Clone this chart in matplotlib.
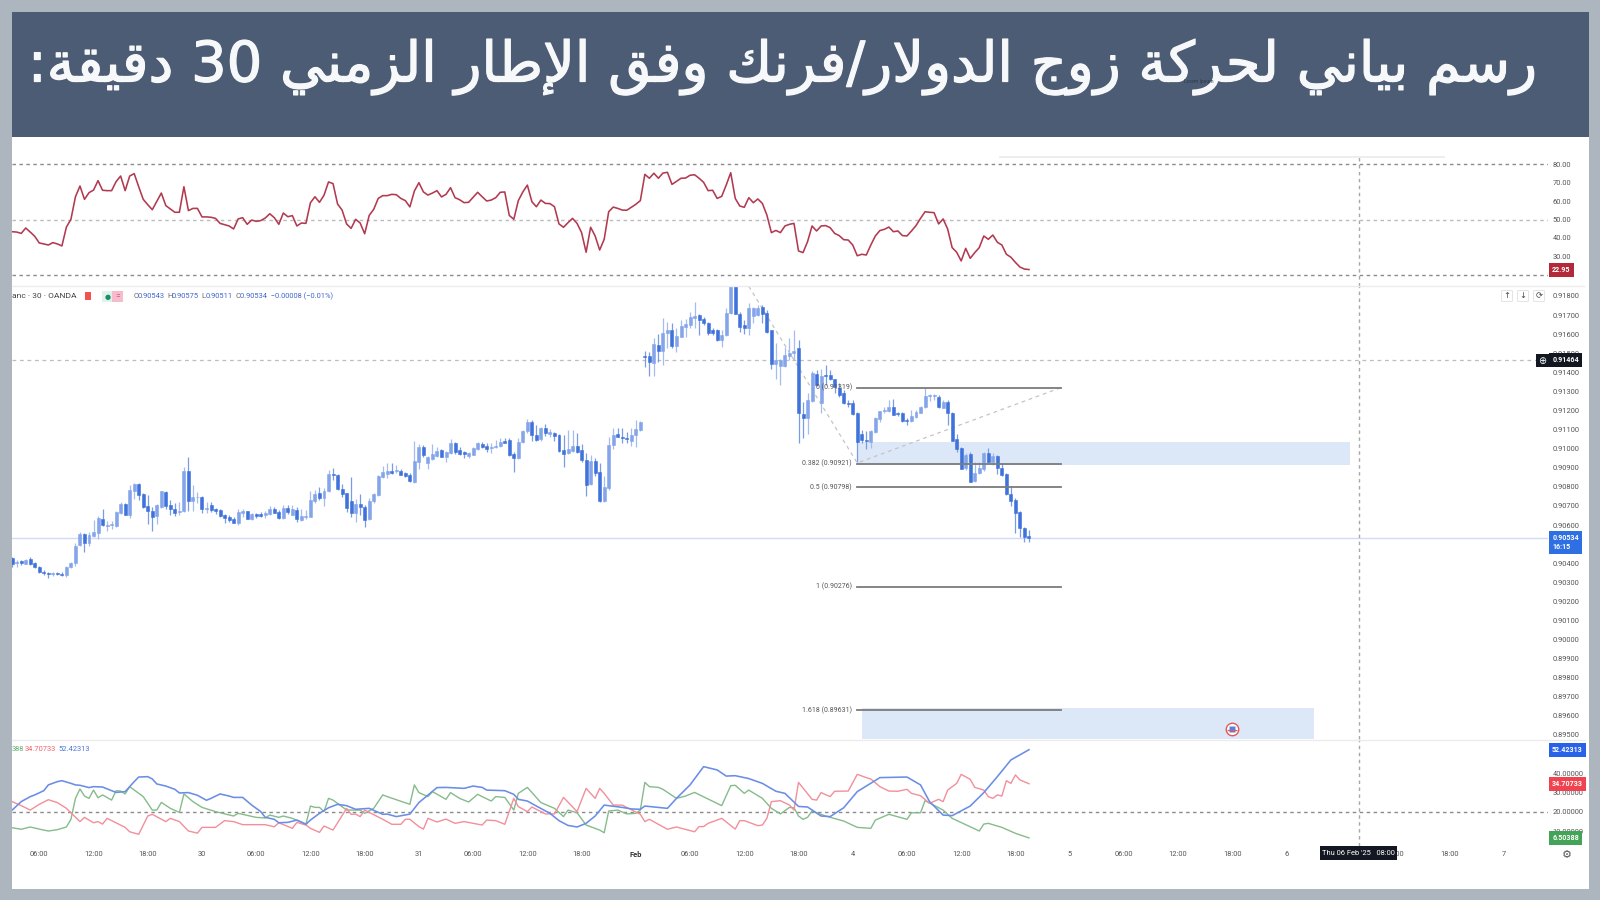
import numpy as np
import matplotlib
matplotlib.use("Agg")
import matplotlib.pyplot as plt
import matplotlib.patheffects as pe
from matplotlib.patches import Rectangle, FancyBboxPatch

plt.rcParams['font.family'] = ['Roboto', 'DejaVu Sans']

TITLE = "رسم بياني لحركة زوج الدولار/فرنك وفق الإطار الزمني 30 دقيقة:"

# Candles, in 1e-5 price units
opens = [
 90425,90403,90409,90397,90423,90402,90382,90355,90348,90345,
 90348,90343,90336,90378,90399,90495,90551,90504,90542,90560,
 90631,90595,90598,90595,90661,90708,90652,90780,90817,90762,
 90701,90673,90647,90692,90775,90705,90682,90670,90675,90883,
 90724,90745,90748,90682,90703,90684,90679,90652,90642,90633,
 90609,90661,90672,90633,90656,90656,90652,90658,90686,90668,
 90635,90687,90654,90679,90626,90644,90644,90726,90766,90740,
 90780,90867,90862,90787,90766,90726,90661,90710,90693,90630,
 90724,90759,90850,90867,90885,90881,90883,90871,90862,90827,
 90932,91011,90924,90944,90964,90993,90958,90976,91028,90993,
 90981,90964,90969,90997,91025,91014,91004,91007,91016,91040,
 91046,90972,90950,91035,91091,91138,91072,91049,91107,91077,
 91081,91072,90993,90976,90986,91014,90993,90941,90815,90936,
 90876,90728,90796,91019,91077,91061,91054,91042,91070,91098,
 91484,91486,91451,91543,91514,91604,91622,91538,91587,91636,
 91648,91683,91699,91678,91660,91622,91622,91570,91594,91709,
 91880,91706,91648,91634,91697,91701,91741,91709,91622,91442,
 91433,91433,91486,91500,91529,91182,91163,91252,91390,91238,
 91388,91386,91363,91316,91290,91241,91241,91189,91077,91045,
 91037,91086,91154,91195,91199,91220,91189,91189,91150,91147,
 91164,91189,91217,91276,91278,91272,91215,91246,91189,91049,
 91002,90897,90970,90829,90871,90892,90976,90930,90963,90897,
 90867,90761,90731,90666,90586,90543]
closes = [
 90396,90408,90399,90418,90396,90380,90352,90347,90345,90348,
 90343,90338,90382,90401,90492,90553,90504,90548,90563,90638,
 90600,90602,90605,90666,90710,90654,90783,90815,90757,90696,
 90672,90644,90705,90776,90701,90682,90661,90675,90883,90726,
 90747,90749,90682,90687,90679,90673,90647,90635,90625,90612,
 90666,90673,90633,90658,90649,90649,90663,90686,90665,90635,
 90687,90668,90682,90630,90647,90647,90731,90763,90740,90780,
 90867,90862,90787,90763,90691,90661,90710,90693,90626,90728,
 90763,90857,90876,90885,90871,90888,90864,90857,90831,90937,
 91011,90967,90957,90971,90986,90958,90985,91032,90981,90971,
 90971,90976,91002,91030,91011,90997,91007,91014,91035,91032,
 90967,90953,91037,91093,91138,91070,91046,91110,91081,91089,
 91067,90988,90972,90997,91014,90985,90941,90810,90936,90875,
 90726,90798,91021,91072,91063,91054,91049,91074,91102,91137,
 91480,91452,91549,91514,91608,91622,91538,91590,91643,91653,
 91687,91695,91674,91657,91604,91608,91570,91596,91713,91880,
 91706,91639,91631,91736,91736,91739,91704,91613,91444,91465,
 91465,91491,91503,91514,91189,91162,91255,91398,91335,91381,
 91383,91365,91321,91281,91238,91234,91182,91037,91045,91042,
 91093,91159,91196,91203,91220,91178,91182,91147,91143,91171,
 91194,91217,91276,91280,91280,91217,91246,91189,91042,90997,
 90895,90967,90827,90874,90897,90976,90932,90962,90897,90862,
 90762,90726,90661,90582,90539,90534]
highs = [
 90430,90416,90416,90422,90434,90408,90387,90362,90354,90352,
 90355,90354,90385,90406,90504,90561,90556,90565,90624,90647,
 90682,90619,90623,90673,90722,90713,90811,90818,90822,90769,
 90755,90696,90710,90780,90780,90731,90713,90720,90902,90955,
 90810,90773,90752,90722,90722,90689,90684,90658,90651,90640,
 90682,90682,90673,90661,90665,90670,90673,90700,90693,90679,
 90705,90703,90707,90693,90682,90679,90778,90784,90801,90792,
 90888,90897,90867,90815,90770,90850,90735,90763,90705,90740,
 90770,90862,90909,90923,90923,90913,90892,90880,90871,91040,
 91023,91020,90962,91023,91011,90997,90990,91049,91035,91007,
 90990,90985,91007,91037,91037,91028,91028,91046,91058,91054,
 91056,90981,91054,91098,91156,91151,91124,91116,91128,91102,
 91089,91075,91072,91098,91098,91084,91023,90976,90967,90950,
 90923,90857,91063,91107,91107,91107,91089,91107,91151,91147,
 91512,91508,91578,91599,91683,91666,91657,91631,91674,91678,
 91718,91767,91706,91688,91666,91631,91625,91622,91735,91900,
 91900,91718,91674,91762,91741,91753,91753,91727,91622,91552,
 91468,91535,91578,91622,91570,91246,91294,91409,91412,91416,
 91438,91412,91367,91342,91307,91255,91255,91194,91098,91093,
 91098,91168,91199,91220,91255,91259,91194,91192,91159,91203,
 91203,91224,91316,91286,91286,91280,91255,91255,91192,91077,
 91010,90976,90984,90932,90932,90984,91005,90976,90967,90923,
 90874,90804,90740,90673,90591,90575]
lows = [
 90378,90382,90390,90394,90390,90373,90347,90338,90322,90334,
 90338,90333,90327,90373,90385,90488,90460,90492,90535,90525,
 90595,90568,90581,90588,90656,90651,90638,90734,90731,90691,
 90605,90569,90605,90687,90682,90652,90649,90652,90666,90675,
 90675,90717,90665,90665,90668,90658,90640,90609,90616,90609,
 90600,90644,90630,90626,90635,90640,90635,90652,90661,90630,
 90630,90656,90651,90618,90623,90633,90640,90717,90731,90700,
 90775,90836,90783,90745,90670,90640,90618,90653,90591,90626,
 90717,90752,90845,90845,90867,90871,90860,90853,90827,90822,
 90892,90958,90892,90941,90958,90955,90932,90972,90972,90965,
 90953,90950,90965,90993,91004,90985,90976,91002,91011,91028,
 90964,90876,90946,91032,91084,91040,91042,91042,91067,91060,
 91042,90985,90906,90971,90981,90979,90932,90752,90810,90857,
 90723,90723,90784,90997,91060,91028,91028,91014,91007,91095,
 91426,91381,91381,91456,91439,91526,91526,91508,91583,91587,
 91631,91631,91596,91648,91596,91596,91566,91535,91590,91705,
 91703,91613,91599,91596,91657,91695,91660,91608,91416,91363,
 91334,91426,91465,91465,91031,91054,91077,91246,91328,91189,
 91334,91360,91290,91273,91234,91220,91177,90932,91028,90997,
 91002,91080,91141,91185,91194,91176,91171,91141,91124,91141,
 91159,91185,91213,91251,91253,91211,91211,91124,91038,90984,
 90892,90888,90823,90825,90866,90885,90927,90914,90867,90859,
 90757,90699,90556,90535,90509,90511]

# RSI, one value per bar
rsi = [
 43.4,43.2,42.5,45.4,43.2,40.9,37.3,36.8,36.2,37.5,36.8,35.7,45.9,50.1,62.3,68.1,60.9,64.5,65.9,71.0,
 65.8,65.6,65.6,70.5,73.5,65.6,73.5,74.8,67.7,60.9,58.0,55.3,59.8,64.3,57.5,55.7,53.9,53.9,67.7,54.8,
 56.0,56.0,51.4,51.4,51.2,50.6,47.9,47.2,46.5,44.9,50.3,51.0,47.4,49.7,49.0,49.4,50.8,53.1,51.0,47.4,
 53.5,51.5,52.1,46.5,48.1,47.9,59.1,62.3,59.3,63.1,70.3,69.4,58.4,55.1,47.6,45.2,50.1,48.1,42.3,52.2,
 55.5,61.4,62.9,62.9,63.6,63.4,61.4,60.2,56.8,65.4,69.9,64.9,63.2,64.3,65.6,62.2,63.6,67.2,61.8,60.7,
 59.1,59.3,62.0,64.7,62.3,60.0,60.5,61.8,64.7,64.9,52.2,50.1,60.2,64.9,68.6,59.6,56.9,60.5,
 58.7,58.6,56.9,47.6,45.8,48.3,50.6,47.9,42.9,32.3,45.8,41.1,33.5,39.3,54.2,56.7,56.0,55.1,55.0,56.6,
 58.2,60.2,74.4,72.3,75.0,72.3,75.1,75.5,69.0,70.6,72.3,72.4,73.9,74.2,72.3,70.1,65.6,65.8,61.4,62.5,
 68.6,75.3,61.4,57.3,56.6,61.8,59.1,61.1,58.7,52.4,42.9,44.1,42.9,46.5,47.4,47.9,33.0,32.1,38.0,46.5,
 43.8,46.5,46.7,45.6,42.5,41.3,39.1,38.9,36.2,30.4,31.2,30.8,36.2,41.1,44.0,44.7,45.9,43.4,43.8,41.3,
 41.1,43.8,46.7,50.6,54.2,53.9,53.7,47.6,50.3,44.9,34.8,32.3,27.6,34.4,29.0,32.1,34.8,41.1,39.3,41.6,
 37.7,36.2,31.2,29.6,26.8,24.3,23.2,22.95]

# Directional indicator lines: bars where the line turns, and its value there
blue_bars = [0,2,4,5,7,8,10,11,13,14,15,17,18,20,22,23,25,27,28,30,31,32,34,36,37,39,41,43,44,46,48,49,51,53,55,56,58,59,61,63,65,66,68,70,72,74,76,79,82,83,85,88,90,92,94,96,100,102,104,105,109,111,
 112,114,116,119,121,123,125,127,129,131,135,137,139,140,145,147,150,153,156,158,160,163,166,169,171,174,176,179,181,184,187,189,192,198,201,203,206,208,212,215,218,221,225]
blue_vals = [21.0,25.4,28.0,28.9,31.1,34.1,35.8,36.3,34.9,34.1,33.9,32.7,33.2,33.0,31.1,30.2,30.6,35.8,38.2,38.4,37.2,34.6,33.5,31.8,29.9,30.1,28.7,26.1,27.1,29.4,28.3,27.6,27.6,23.6,20.2,17.2,16.2,14.4,14.6,15.8,13.6,15.8,19.3,22.2,24.0,23.3,21.4,21.9,18.8,18.9,17.6,18.9,24.9,28.8,32.7,32.8,32.3,33.5,32.8,31.4,31.1,29.2,
 26.6,25.7,23.1,19.3,15.5,13.0,12.2,14.1,17.9,23.6,22.4,21.6,21.4,23.1,21.9,27.1,34.1,43.6,41.9,38.7,38.9,37.4,34.9,30.8,29.7,22.9,22.6,17.9,17.6,22.2,30.6,33.5,37.9,38.2,34.1,25.4,18.4,18.1,23.1,30.1,38.4,47.1,52.42]
green_bars = [0,2,4,6,8,10,12,13,14,15,16,17,18,19,20,22,23,24,25,26,29,31,32,33,35,37,38,40,42,45,49,50,54,56,57,59,60,62,65,66,67,68,69,70,71,74,77,78,80,82,83,88,89,90,92,93,96,97,99,101,103,104,106,107,109,111,
 112,114,117,120,122,123,125,127,130,131,132,134,136,138,139,140,141,143,144,147,149,151,157,159,160,162,163,166,168,170,172,173,174,175,176,177,180,184,187,190,191,194,198,199,201,202,206,208,214,215,216,219,222,225]
green_vals = [11.8,11.0,12.2,11.1,10.1,10.8,12.2,16.2,27.1,32.0,28.3,27.1,31.4,27.4,28.9,26.2,31.1,30.9,29.4,33.2,28.0,21.0,21.0,25.0,21.9,19.8,29.4,25.4,22.4,20.2,17.9,19.3,17.2,16.9,18.4,17.2,17.9,16.7,13.7,23.1,22.4,22.4,20.2,27.1,26.2,21.0,21.0,19.3,21.9,28.9,28.0,24.0,34.1,30.1,28.0,30.6,26.6,30.1,27.1,25.2,29.2,28.0,25.7,28.0,27.6,21.0,
 29.7,32.8,24.9,21.9,17.6,21.0,19.6,13.2,10.6,9.2,20.5,21.0,19.0,19.3,21.0,35.4,33.2,32.8,31.8,27.1,28.3,30.2,23.3,33.7,33.9,29.7,31.4,27.1,21.9,19.0,22.4,22.2,17.9,16.2,17.2,20.5,17.9,15.3,12.0,11.5,15.8,18.8,16.2,19.6,19.6,25.9,21.0,16.7,10.1,13.7,14.1,12.0,8.9,6.5]
red_bars = [0,2,4,6,8,10,12,13,15,16,18,19,20,21,24,25,26,28,30,31,34,35,37,39,41,42,45,47,49,51,56,58,59,62,63,65,66,68,69,71,74,75,76,77,78,82,84,86,87,88,90,91,92,94,96,98,100,104,105,107,109,111,
 112,114,115,118,120,122,125,127,129,130,131,133,135,139,140,141,145,147,151,152,153,154,157,160,161,162,165,166,167,168,170,172,173,174,177,178,179,181,182,185,187,189,190,192,194,196,198,199,201,203,205,206,207,209,210,212,213,215,216,217,218,219,220,221,222,223,225]
red_vals = [25.4,23.3,21.0,24.0,26.4,24.9,21.9,19.6,15.0,17.2,14.4,15.0,13.7,16.7,13.2,12.0,9.7,8.4,17.9,18.8,15.0,16.7,15.0,10.1,9.0,12.0,12.0,15.5,15.0,13.4,13.4,12.3,14.4,11.5,14.6,13.2,11.5,9.4,12.7,10.6,21.9,18.8,18.9,17.6,21.0,16.2,13.6,13.6,16.2,16.2,12.4,11.1,16.7,14.8,16.3,14.1,15.0,13.2,15.8,15.5,13.6,27.1,
 22.8,20.2,22.6,19.0,19.0,27.6,20.2,32.3,27.1,32.3,29.7,23.6,23.6,18.8,15.0,16.2,11.0,12.2,9.7,12.4,12.4,14.1,16.7,11.1,15.5,15.5,12.9,13.2,16.7,25.4,25.9,23.6,21.0,35.4,26.6,26.2,30.1,28.0,30.8,30.9,39.6,37.9,37.2,33.2,30.9,30.8,31.8,29.7,28.5,24.5,26.6,25.4,31.4,34.9,39.6,37.0,32.8,31.4,28.0,27.1,28.9,28.3,36.3,34.9,39.3,36.7,34.71]

fib_labels = ["0", "0.382", "0.5", "1", "1.618"]
fib_prices = [0.91319, 0.90921, 0.90798, 0.90276, 0.89631]
zigzag_bars = [163, 187, 232]
zigzag_prices = [0.9185, 0.90925, 0.91319]
zone_bars = [(187, 296), (188, 288)]
zone_prices = [(0.90914, 0.91036), (0.8940, 0.89641)]

price_ticks = [round(0.895 + 0.001 * k, 3) for k in range(24)]
rsi_ticks = [20, 30, 40, 50, 60, 70, 80]
adx_ticks = [10, 20, 30, 40, 50]
time_ticks = [6,18,30,42,54,66,78,90,102,114,126,138,150,162,174,186,198,210,222,234,246,258,270,282,294,306,318,330]
time_labels = ["06:00","12:00","18:00","30","06:00","12:00","18:00","31","06:00","12:00","18:00","Feb",
               "06:00","12:00","18:00","4","06:00","12:00","18:00","5","06:00","12:00","18:00","6",
               "06:00","12:00","18:00","7"]
last_price = 0.90534
cross_price = 0.91464
cross_bar = 298
event_bar = 270
event_price = 0.89530


def shape_arabic(text):
    """Joined glyph forms in visual order, because matplotlib does no Arabic shaping."""
    dual = {'ب':0xFE8F,'ج':0xFE9D,'ح':0xFEA1,'س':0xFEB1,'ط':0xFEC1,'ف':0xFED1,'ق':0xFED5,
            'ك':0xFED9,'ل':0xFEDD,'م':0xFEE1,'ن':0xFEE5,'ي':0xFEF1}
    right = {'ا':0xFE8D,'إ':0xFE87,'د':0xFEA9,'ر':0xFEAD,'ز':0xFEAF,'و':0xFEED,'ة':0xFE93}
    out = []
    chars = list(text)
    i = 0
    def joins_next(c):
        return c in dual
    def is_ar(c):
        return c in dual or c in right
    while i < len(chars):
        c = chars[i]
        prev_j = i > 0 and joins_next(chars[i - 1])
        nxt = chars[i + 1] if i + 1 < len(chars) else ''
        if c == 'ل' and nxt in ('ا', 'إ'):
            base = 0xFEFB if nxt == 'ا' else 0xFEF9
            out.append(chr(base + (1 if prev_j else 0)))
            i += 2
            continue
        if c in right:
            out.append(chr(right[c] + (1 if prev_j else 0)))
        elif c in dual:
            next_j = is_ar(nxt)
            k = 3 if (prev_j and next_j) else 2 if next_j else 1 if prev_j else 0
            out.append(chr(dual[c] + k))
        else:
            out.append(c)
        i += 1
    vis = out[::-1]
    res, j = [], 0
    while j < len(vis):
        if vis[j].isdigit():
            k = j
            while k < len(vis) and vis[k].isdigit():
                k += 1
            res.extend(vis[j:k][::-1])
            j = k
        else:
            res.append(vis[j])
            j += 1
    return ''.join(res)


FRAME = '#adb5bf'
BANNER = '#4c5c74'
W, H = 1600, 900
fig = plt.figure(figsize=(16, 9), dpi=100, facecolor=FRAME)


def box(x0, y0, x1, y1, color, z=-10):
    fig.add_artist(Rectangle((x0 / W, 1 - y1 / H), (x1 - x0) / W, (y1 - y0) / H,
                             transform=fig.transFigure, fc=color, ec='none', zorder=z))


def add_ax(y0, y1):
    ax = fig.add_axes([12 / W, 1 - y1 / H, (1548 - 12) / W, (y1 - y0) / H], facecolor='none')
    for s in ax.spines.values():
        s.set_visible(False)
    ax.set_xlim(-0.04, 339.85)
    ax.yaxis.tick_right()
    ax.tick_params(axis='y', length=0, pad=3.4, labelsize=5.4, labelcolor='#555555')
    ax.set_xticks([])
    return ax


box(12, 12, 1589, 889, 'white', -12)
box(12, 12, 1589, 137, BANNER, -11)
title = fig.text(1538 / W, 1 - 67 / H, shape_arabic(TITLE), color='#f7f8fa', fontsize=41, ha='right',
                 va='center', family='DejaVu Sans',
                 path_effects=[pe.withStroke(linewidth=0.9, foreground='#f7f8fa')])
fig.text(1199 / W, 1 - 81.5 / H, "Lorem Ipsum", color='#2e3a4c', fontsize=3.6, ha='center', va='center')

# RSI panel
ax_rsi = add_ax(137, 286)
ax_rsi.set_ylim(14.05, 94.6)
ax_rsi.set_yticks(rsi_ticks)
ax_rsi.set_yticklabels([f"{v:.2f}" for v in rsi_ticks])
for lvl, col in ((80, '#8a8a8a'), (50, '#bcbcbc'), (20, '#8a8a8a')):
    ax_rsi.axhline(lvl, color=col, lw=1.0, ls=(0, (2.5, 2.5)))
ax_rsi.plot(np.arange(len(rsi)), rsi, color='#b23a50', lw=1.15, solid_joinstyle='round')

# Price panel
ax = add_ax(286, 739)
ax.set_ylim(0.89479, 0.91852)
ax.set_yticks(price_ticks)
ax.set_yticklabels([f"{v:.5f}" for v in price_ticks])
o, c = np.array(opens) / 1e5, np.array(closes) / 1e5
hi, lo = np.array(highs) / 1e5, np.array(lows) / 1e5
xs = np.arange(len(opens))
up = c >= o
for (b0, b1), (p0, p1) in zip(zone_bars, zone_prices):
    ax.add_patch(Rectangle((b0, p0), b1 - b0, p1 - p0, fc='#dce8f8', ec='none', zorder=1))
ax.axhline(last_price, color='#d3daf6', lw=1.0, zorder=1.5)
ax.axhline(cross_price, color='#bdbdbd', lw=0.9, ls=(0, (3, 3)), zorder=1.5)
ax.vlines(xs[up], lo[up], hi[up], color='#a6bcee', lw=0.9, zorder=2)
ax.vlines(xs[~up], lo[~up], hi[~up], color='#7a9ce4', lw=0.9, zorder=2)
ax.bar(xs[up], (c - o)[up], bottom=o[up], width=0.66, color='#85a5ea', edgecolor='#85a5ea', lw=0.4, zorder=3)
ax.bar(xs[~up], (o - c)[~up], bottom=c[~up], width=0.66, color='#3f72da', edgecolor='#3f72da', lw=0.4, zorder=3)
ax.plot(zigzag_bars, zigzag_prices, color='#c4c4c4', lw=0.9, ls=(0, (3, 3)), zorder=2.5)
for name, p in zip(fib_labels, fib_prices):
    ax.plot([187, 232], [p, p], color='#7b7b7b', lw=1.3, zorder=4)
    ax.text(185.8, p, f"{name} ({p:.5f})", ha='right', va='center', fontsize=5.0, color='#555555', zorder=4)
ax.plot([event_bar], [event_price], 'o', ms=9, mfc='white', mec='#e05a5a', mew=1.0, zorder=5)
ax.plot([event_bar], [event_price], 's', ms=4.2, mfc='#5a82d8', mec='none', zorder=6)
ax.plot([event_bar], [event_price - 0.00006], '_', ms=7, color='#e05a5a', mew=0.9, zorder=7)

# Directional panel
ax_adx = add_ax(739, 846)
ax_adx.set_ylim(2.3, 58.0)
ax_adx.set_yticks(adx_ticks)
ax_adx.set_yticklabels([f"{v:.5f}" for v in adx_ticks])
ax_adx.axhline(20, color='#8a8a8a', lw=1.0, ls=(0, (2.5, 2.5)))
ax_adx.plot(green_bars, green_vals, color='#86bb8b', lw=1.0)
ax_adx.plot(red_bars, red_vals, color='#f28f9b', lw=1.0)
ax_adx.plot(blue_bars, blue_vals, color='#6a8de6', lw=1.15)
ax_adx.set_xticks(time_ticks)
ax_adx.set_xticklabels(time_labels)
ax_adx.tick_params(axis='x', length=0, pad=3.6, labelsize=5.4, labelcolor='#555555')
for lab, txt in zip(ax_adx.get_xticklabels(), time_labels):
    if txt == 'Feb':
        lab.set_fontweight('bold')
        lab.set_color('#333333')

ax_rsi.vlines(cross_bar, 14.05, 85, color='#a8a8a8', lw=1.0, ls=(0, (2.5, 2.5)), zorder=1.6)
for a in (ax, ax_adx):
    a.axvline(cross_bar, color='#a8a8a8', lw=1.0, ls=(0, (2.5, 2.5)), zorder=1.6)

# Panel separators and the edge of a popover
fig.add_artist(plt.Line2D([12 / W, 1584 / W], [1 - 286 / H] * 2, color='#ececec', lw=1.0))
fig.add_artist(plt.Line2D([12 / W, 1584 / W], [1 - 739.5 / H] * 2, color='#ececec', lw=1.0))
fig.add_artist(plt.Line2D([1000 / W, 1444 / W], [1 - 156.5 / H] * 2, color='#ececec', lw=1.3))


def tag(axis, value, text, color, dy=0.0, fw='bold', xoff=3.0):
    axis.annotate(text, xy=(1, value), xycoords=axis.get_yaxis_transform(),
                  xytext=(xoff, dy), textcoords='offset points', ha='left', va='center',
                  fontsize=5.1, color='white', fontweight=fw, annotation_clip=False, zorder=20,
                  linespacing=1.15,
                  bbox=dict(boxstyle='square,pad=0.42', fc=color, ec='none'))


tag(ax_rsi, 22.95, "22.95", '#b3293a')
tag(ax, cross_price, "0.91464", '#131722')
tag(ax, last_price, "0.90534\n16:15", '#2f6fe4', dy=-3.6)
tag(ax_adx, 52.42313, "52.42313", '#2962e8')
tag(ax_adx, 34.70733, "34.70733", '#f0434f')
tag(ax_adx, 6.50388, "6.50388", '#43a457')

# Plus button beside the crosshair price
box(1536, 354, 1549, 367, '#131722', 19)
fig.text(1542.5 / W, 1 - 360.5 / H, "⊕", color='white', fontsize=7, ha='center', va='center',
         family='DejaVu Sans', zorder=21)

# Chart buttons
for bx, sym in ((1507, "↑"), (1523, "↓"), (1539, "⟳")):
    fig.add_artist(FancyBboxPatch(((bx - 5.5) / W, 1 - 301.5 / H), 11 / W, 11 / H, transform=fig.transFigure,
                                  boxstyle='round,pad=0,rounding_size=0.001', fc='white', ec='#e4e4e4', lw=0.7, zorder=3))
    fig.text(bx / W, 1 - 296 / H, sym, color='#444444', fontsize=6, ha='center', va='center',
             family='DejaVu Sans', zorder=4)

# Chart header
fig.text(12 / W, 1 - 296.5 / H, "anc · 30 · OANDA", color='#444444', fontsize=6.0, ha='left', va='center')
box(84.5, 292.5, 90.5, 300, '#f0524f', 3)
box(102, 291, 112, 302, '#e3f1ec', 3)
box(112, 291, 123, 302, '#f6bccd', 3)
fig.text(107.5 / W, 1 - 296.5 / H, "●", color='#14906c', fontsize=5, ha='center', va='center',
         family='DejaVu Sans', zorder=4)
fig.text(117.5 / W, 1 - 296.5 / H, "=", color='#d6416f', fontsize=6, ha='center', va='center', zorder=4)
x_pos = 133.5
for label, val, adv in (("O", "0.90543", 34), ("H", "0.90575", 34), ("L", "0.90511", 34)):
    fig.text(x_pos / W, 1 - 296.5 / H, label, color='#666666', fontsize=5.4, ha='left', va='center')
    fig.text((x_pos + 4.2) / W, 1 - 296.5 / H, val, color='#3f66c8', fontsize=5.4, ha='left', va='center')
    x_pos += adv
fig.text(x_pos / W, 1 - 296.5 / H, "C", color='#666666', fontsize=5.4, ha='left', va='center')
fig.text((x_pos + 4.2) / W, 1 - 296.5 / H, "0.90534  −0.00008 (−0.01%)", color='#3f66c8', fontsize=5.4,
         ha='left', va='center')

# Directional legend
fig.text(12 / W, 1 - 749.3 / H, "388", color='#5fae68', fontsize=5.4, ha='left', va='center')
fig.text(24.8 / W, 1 - 749.3 / H, "34.70733", color='#f0616d', fontsize=5.4, ha='left', va='center')
fig.text(58 / W, 1 - 749.3 / H, "52.42313", color='#4d74dc', fontsize=5.4, ha='left', va='center')

# Crosshair time label and settings icon
box(1320, 846, 1397, 859.5, '#131722', 25)
fig.text(1358.5 / W, 1 - 853.3 / H, "Thu 06 Feb '25   08:00", color='white', fontsize=5.4, ha='center',
         va='center', zorder=26)
fig.text(1567 / W, 1 - 854.5 / H, "⚙", color='#555555', fontsize=8, ha='center', va='center',
         family='DejaVu Sans')

fig.canvas.draw()
ext = title.get_window_extent()
title.set_fontsize(41 * (1538 - 25.5) / ext.width)

fig.savefig("out.png", dpi=100, facecolor=FRAME)
